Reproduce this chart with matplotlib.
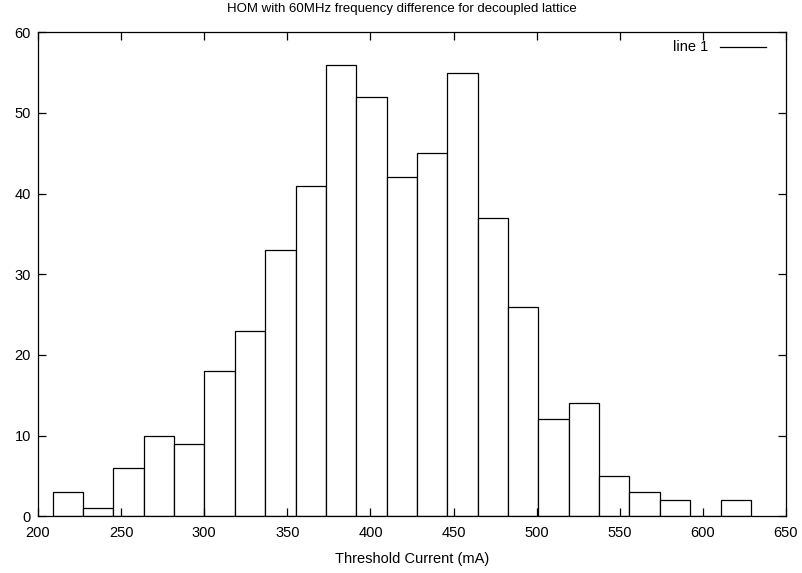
import matplotlib
matplotlib.use("Agg")
import matplotlib.pyplot as plt
from matplotlib.lines import Line2D

plt.rcParams['font.family'] = ['Liberation Sans', 'DejaVu Sans']

bin_start = 208.8
bin_width = 18.265
counts = [3, 1, 6, 10, 9, 18, 23, 33, 41, 56, 52, 42, 45, 55, 37, 26, 12, 14, 5, 3, 2, 0, 2]
xticks = [200, 250, 300, 350, 400, 450, 500, 550, 600, 650]
yticks = [0, 10, 20, 30, 40, 50, 60]

title = "HOM with 60MHz frequency difference for decoupled lattice"
xlabel = "Threshold Current (mA)"
legend_label = "line 1"

fig = plt.figure(figsize=(8.03, 5.73), dpi=100)
ax = fig.add_axes([38/803, 1-516.2/573, (786-38)/803, (516.2-32.3)/573])

lefts = [bin_start + i*bin_width for i in range(len(counts))]
ax.bar(lefts, counts, width=bin_width, align='edge', facecolor='white',
       edgecolor='black', linewidth=0.9)

ax.set_xlim(200, 650)
ax.set_ylim(0, 60)
ax.set_xticks(xticks)
ax.set_yticks(yticks)
ax.tick_params(direction='in', length=6, width=0.9, top=True, right=True,
               labelsize=10.5, pad=5)
ax.tick_params(axis='x', pad=7)
for s in ax.spines.values():
    s.set_linewidth(0.9)

ax.set_xlabel(xlabel, fontsize=10.5, labelpad=9)
fig.text(0.5, 1-9/573, title, ha='center', va='center', fontsize=9.5)

# key, gnuplot style
fig.text(708/803, 1-46.7/573, legend_label, ha='right', va='center', fontsize=10.5)
fig.add_artist(Line2D([720/803, 766/803], [1-46.7/573, 1-46.7/573],
                      color='black', linewidth=0.9, transform=fig.transFigure))

fig.savefig("out.png", dpi=100)
